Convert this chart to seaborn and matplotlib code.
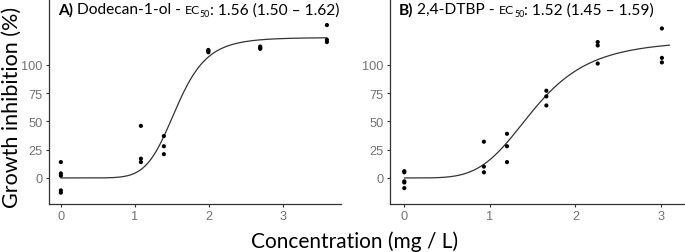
import numpy as np
import pandas as pd
import matplotlib
matplotlib.use("Agg")
import matplotlib.pyplot as plt
import seaborn as sns

# Panel A: Dodecan-1-ol
conc_a = [0, 0, 0, 0, 0, 1.08, 1.08, 1.08, 1.39, 1.39, 1.39,
          1.99, 1.99, 1.99, 2.69, 2.69, 2.69, 3.59, 3.59, 3.59]
inhib_a = [14, 4, 2, -11, -13, 46, 17, 14, 37, 28, 21,
           113, 112, 111, 116, 115, 114, 135, 122, 120]
# fitted log-logistic parameters (EC50 from title; slope/upper)
ec50_a, slope_a, upper_a, xmax_a = 1.56, 7.5, 124, 3.59

# Panel B: 2,4-DTBP
conc_b = [0, 0, 0, 0, 0, 0.93, 0.93, 0.93, 1.20, 1.20, 1.20,
          1.66, 1.66, 1.66, 2.26, 2.26, 2.26, 3.01, 3.01, 3.01]
inhib_b = [6, 5, -3, -4, -9, 32, 10, 5, 39, 28, 14,
           77, 72, 64, 120, 117, 101, 132, 106, 102]
ec50_b, slope_b, upper_b, xmax_b = 1.52, 4.5, 122, 3.10

titles = [("A)", "Dodecan-1-ol - ", "1.56 (1.50 \u2013 1.62)"),
          ("B)", "2,4-DTBP - ", "1.52 (1.45 \u2013 1.59)")]
yticks = [0, 25, 50, 75, 100]
xticks = [0, 1, 2, 3]

sns.set_theme(style="white")
plt.rcParams["font.family"] = ["Lato", "DejaVu Sans"]

W, H = 685, 253
fig = plt.figure(figsize=(W / 100, H / 100), dpi=100)


def px_axes(l, t, r, b):
    return fig.add_axes([l / W, 1 - b / H, (r - l) / W, (b - t) / H])


def loglogistic(x, e, k, d):
    x = np.asarray(x, dtype=float)
    out = np.zeros_like(x)
    pos = x > 0
    out[pos] = d / (1 + (x[pos] / e) ** (-k))
    return out


def chain_title(ax, parts):
    y = 0.93
    bold, name, vals = parts
    t = ax.text(0.03, y, bold, transform=ax.transAxes, fontsize=11.2,
                fontweight="bold", va="baseline", ha="left", color="black")
    t = ax.annotate(" " + name, xy=(1, y), xycoords=(t, "axes fraction"),
                    fontsize=11.2, va="baseline", ha="left", color="black")
    t = ax.annotate("EC", xy=(1, y), xycoords=(t, "axes fraction"),
                    fontsize=8.8, va="baseline", ha="left", color="black")
    t2 = ax.annotate("50", xy=(1, y), xycoords=(t, "axes fraction"),
                     xytext=(0, -2), textcoords="offset points",
                     fontsize=6.4, va="baseline", ha="left", color="black")
    ax.annotate(": " + vals, xy=(1, y), xycoords=(t2, "axes fraction"),
                fontsize=11.2, va="baseline", ha="left", color="black")


panels = [
    (px_axes(49, 0, 341, 205), conc_a, inhib_a, ec50_a, slope_a, upper_a, xmax_a, (-0.16, 3.78)),
    (px_axes(390, 0, 685, 205), conc_b, inhib_b, ec50_b, slope_b, upper_b, xmax_b, (-0.167, 3.28)),
]

for i, (ax, cx, cy, e, k, d, xm, xl) in enumerate(panels):
    df = pd.DataFrame({"conc": cx, "inhib": cy})
    xs = np.linspace(0, xm, 300)
    curve = pd.DataFrame({"conc": xs, "fit": loglogistic(xs, e, k, d)})
    sns.lineplot(data=curve, x="conc", y="fit", ax=ax, color="#333333", linewidth=0.9)
    sns.scatterplot(data=df, x="conc", y="inhib", ax=ax, color="black", s=9,
                    edgecolor="none", zorder=3)
    ax.set_xlim(*xl)
    ax.set_ylim(-23, 158)
    ax.set_xticks(xticks)
    ax.set_yticks(yticks)
    ax.set_xlabel("")
    ax.set_ylabel("")
    for s in ["top", "right"]:
        ax.spines[s].set_visible(False)
    for s in ["left", "bottom"]:
        ax.spines[s].set_color("#333333")
        ax.spines[s].set_linewidth(0.9)
    ax.tick_params(axis="both", length=2.5, width=0.8, color="#333333",
                   labelsize=9.2, labelcolor="#737373", pad=2, bottom=True, left=True)
    for lab in ax.get_xticklabels() + ax.get_yticklabels():
        lab.set_fontfamily(["Liberation Sans", "DejaVu Sans"])
    ax.set_facecolor("white")
    chain_title(ax, titles[i])

fig.text(12 / W, 1 - 107 / H, "Growth inhibition (%)", rotation=90,
         ha="center", va="center", fontsize=15.5, color="black")
fig.text(355 / W, 1 - 248 / H, "Concentration (mg / L)",
         ha="center", va="baseline", fontsize=15, color="black")

fig.savefig("out.png", dpi=100, facecolor="white")
